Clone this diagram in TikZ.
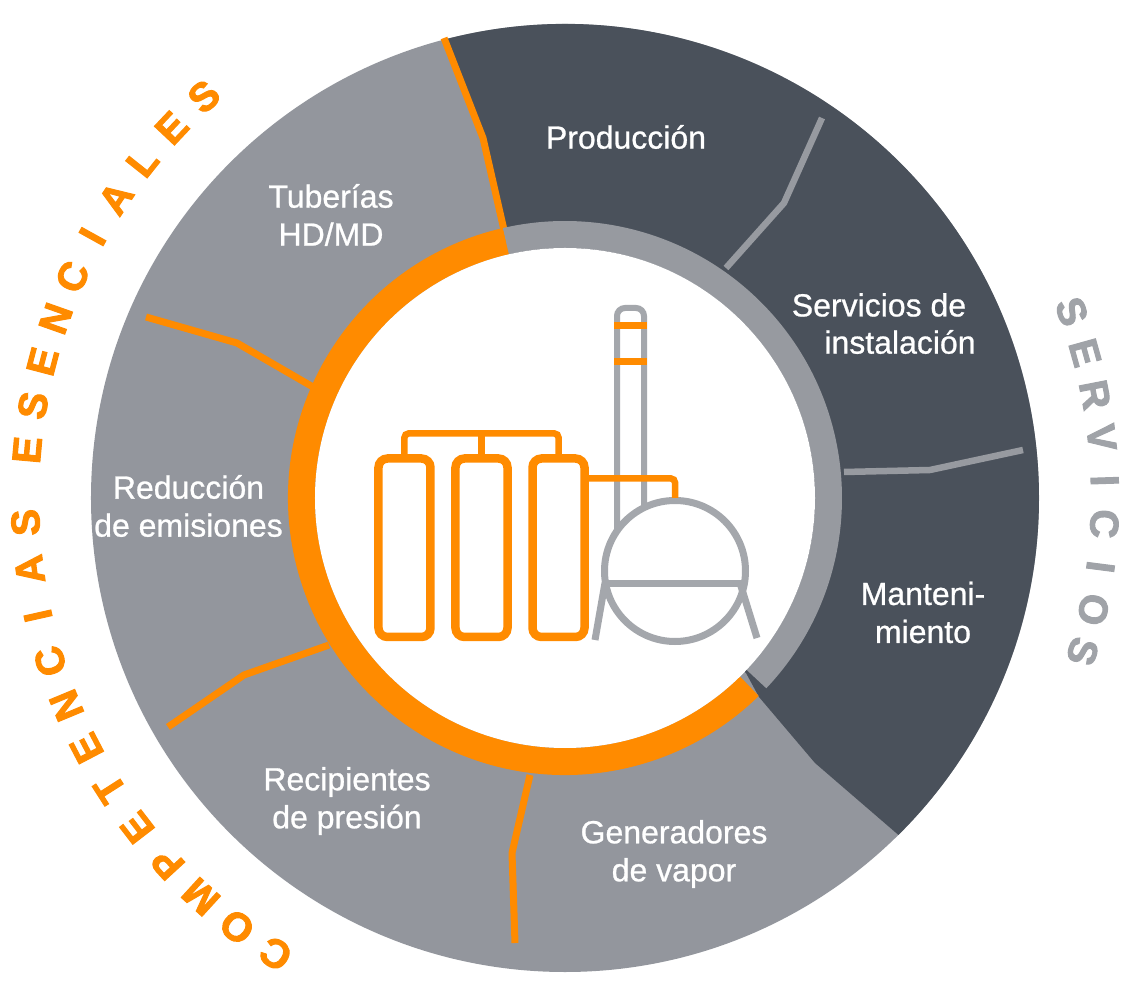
\documentclass[tikz,border=0pt]{standalone}
\usepackage{fontspec}
\setmainfont{Liberation Sans}
\newfontfamily\rimfont[FakeBold=2.5]{Liberation Sans Bold}
\newfontfamily\labelfont[FakeBold=0.8]{Liberation Sans}
\usetikzlibrary{calc}
\definecolor{darkSector}{RGB}{74,81,91}
\definecolor{midGray}{RGB}{147,150,157}
\definecolor{ringGray}{RGB}{151,154,160}
\definecolor{compOrange}{RGB}{255,139,0}
\definecolor{iconGray}{RGB}{164,167,172}
\definecolor{servGray}{RGB}{160,163,168}

\begin{document}
\begin{tikzpicture}[
	%	style def
    x=1pt, y=1pt,
    orange line/.style={line width=7pt, draw=compOrange, line join=round},
    gray line/.style={line width=6.5pt, draw=ringGray, line join=round},
    sector label/.style={text=white, align=center, font=\labelfont\fontsize{32}{38}\selectfont},
    arc letter/.style={font=\rimfont\fontsize{40}{40}\selectfont, inner sep=0pt},
    tank/.style={draw=compOrange, line width=8.5pt, rounded corners=9pt},
    pipe/.style={draw=compOrange, line width=6.5pt, rounded corners=4pt},
    vessel/.style={draw=iconGray, line width=7pt}
    ]
    \useasboundingbox (-565,-502) rectangle (569,498);

	% outer disc and services sector
    \fill[midGray] (0,0) circle[radius=474];
    \fill[darkSector] (104.7:474) arc[start angle=104.7, end angle=-45.3, radius=474]
        -- (250,-265) -- (194,-199) -- (181,-175) -- (0,0)
        -- (-61,268) -- (-82,360) -- (-120,456) -- cycle;

	% dividing lines
    \draw[orange line] (-419,181) -- (-328,155) -- (-252,111);
    \draw[orange line] (-397,-229) -- (-321,-177) -- (-236,-147);
    \draw[orange line] (-50,-445) -- (-53,-355) -- (-35,-277);
    \draw[gray line] (257,380) -- (219,295) -- (161,230);
    \draw[gray line] (458,48) -- (365,28) -- (279,26);
    \draw[orange line] (-121,460) -- (-82,360) -- (-61,268) -- (-58,255);

	% inner ring
    \draw[line width=27pt, draw=ringGray] (-43.4:263.5) arc[start angle=-43.4, end angle=103, radius=263.5];
    \draw[line width=27pt, draw=compOrange] (103:263.5) arc[start angle=103, end angle=314.4, radius=263.5];
    \fill[white] (0,0) circle[radius=250];

	% plant icon
    \draw[draw=iconGray, line width=6pt, rounded corners=8pt] (52,-33) -- (52,190) -- (79,190) -- (79,-10);
    \draw[vessel] (110,-73) circle[radius=70.5];
    \draw[vessel] (40.6,-85.5) -- (179.4,-85.5);
    \draw[vessel] (40,-85) -- (30,-142);
    \draw[vessel] (175,-85) -- (192,-140);
    \draw[compOrange, line width=7pt] (49,172) -- (82,172) (49,136) -- (82,136);
    \foreach \tx in {-160.5,-83.5,-6.5}
        \draw[tank] ({\tx-26},-139) rectangle ({\tx+26},39.5);
    \draw[pipe] (-160.5,39.5) -- (-160.5,64.5) -- (-6.5,64.5) -- (-6.5,39.5);
    \draw[pipe] (-83.5,64.5) -- (-83.5,39.5);
    \draw[pipe] (19.5,19.5) -- (110,19.5) -- (110,0);

	% sector labels
    \node[sector label] (produccion) at (61,361) {Producción};
    \node[sector label] (tuberias) at (-234,283) {Tuberías\\HD/MD};
    \node[sector label] (servicios) at (314,193) {Servicios de};
    \node[sector label] (instalacion) at (335,156) {instalación};
    \node[sector label] (reduccion) at (-376.5,-8) {Reducción\\de emisiones};
    \node[sector label] (mantenimiento) at (358,-114.5) {Manteni-\\miento};
    \node[sector label] (recipientes) at (-218,-303) {Recipientes\\de presión};
    \node[sector label] (generadores) at (109,-356) {Generadores\\de vapor};

	% lettering round the rim
    \foreach \ch [count=\i from 0] in {C,O,M,P,E,T,E,N,C,I,A,S}
        \node[arc letter, text=compOrange, rotate={147.6-5*\i}] (comp\i) at ({237.6-5*\i}:540) {\ch};
    \foreach \ch [count=\i from 0] in {E,S,E,N,C,I,A,L,E,S}
        \node[arc letter, text=compOrange, rotate={84.9-4.77*\i}] (esen\i) at ({174.9-4.77*\i}:540) {\ch};
    \foreach \ch [count=\i from 0] in {S,E,R,V,I,C,I,O,S}
        \node[arc letter, text=servGray, rotate={-69.8-4.59*\i}] (serv\i) at ({20.2-4.59*\i}:540) {\ch};
\end{tikzpicture}
\end{document}
